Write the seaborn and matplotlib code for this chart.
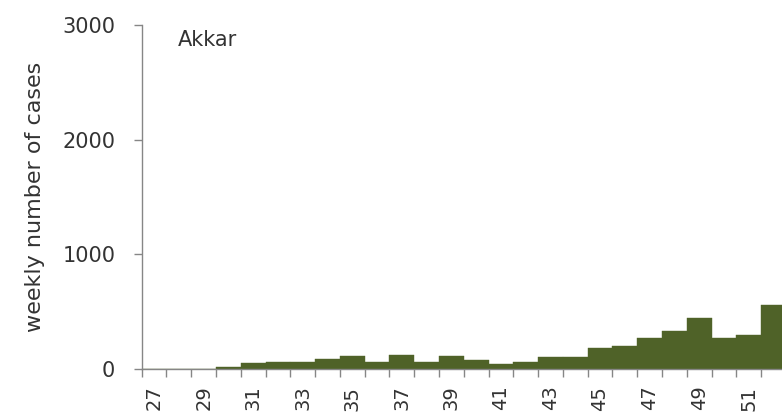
import numpy as np
import matplotlib
matplotlib.use("Agg")
import matplotlib.pyplot as plt
import seaborn as sns
import pandas as pd

# weekly cases, Akkar
weeks = list(range(27, 53))
cases = [3, 3, 3, 20, 50, 65, 65, 85, 115, 65, 125, 65, 110,
         80, 45, 65, 105, 105, 185, 205, 270, 330, 445, 270, 300, 560]
label_weeks = [w for w in weeks if w % 2 == 1]

df = pd.DataFrame({"week": [str(w) for w in weeks], "cases": cases})

sns.set_style("white")
plt.rcParams['font.family'] = ['DejaVu Sans']

fig = plt.figure(figsize=(7.82, 4.18), dpi=100)
ax = fig.add_axes([0.1812, 0.1172, 0.8237, 0.823])

sns.barplot(x="week", y="cases", data=df, color="#4F6228", width=1.0,
            saturation=1, edgecolor="#4F6228", linewidth=0.3, ax=ax)

ax.set_xlim(-0.5, len(weeks) - 0.5)
ax.set_ylim(0, 3000)
ax.set_yticks([0, 1000, 2000, 3000])

# labels on odd weeks, tick marks between bars
ax.set_xticks([weeks.index(w) for w in label_weeks])
ax.set_xticklabels([str(w) for w in label_weeks], rotation=90)
ax.set_xticks(np.arange(-0.5, len(weeks), 1.0), minor=True)
ax.tick_params(axis="x", which="major", bottom=True, length=0, pad=12,
               labelsize=14, labelcolor="#333333")
ax.tick_params(axis="x", which="minor", bottom=True, length=6, width=1,
               color="#868686", direction="out")
ax.tick_params(axis="y", left=True, length=6, width=1, color="#868686", pad=13,
               labelsize=15, labelcolor="#333333", direction="out")

ax.set_xlabel("")
ax.set_ylabel("weekly number of cases", fontsize=16, color="#333333")
ax.yaxis.set_label_coords(-0.15, 0.5)

for side in ["top", "right"]:
    ax.spines[side].set_visible(False)
for side in ["left", "bottom"]:
    ax.spines[side].set_color("#868686")
    ax.spines[side].set_linewidth(1)

ax.text(0.056, 0.985, "Akkar", transform=ax.transAxes, fontsize=15,
        color="#333333", va="top", ha="left")

fig.savefig("out.png", dpi=100)
